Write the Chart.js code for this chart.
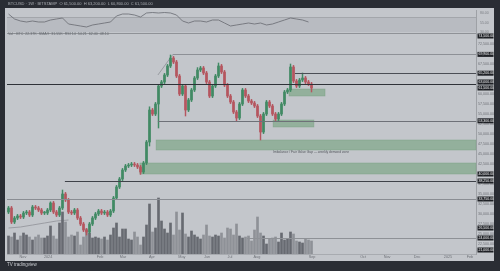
<!DOCTYPE html>
<html><head><meta charset="utf-8">
<script src="https://cdn.jsdelivr.net/npm/chart.js@4.4.1/dist/chart.umd.min.js"></script>
<style>
html,body{margin:0;padding:0;width:500px;height:271px;overflow:hidden;background:#2a2d34;font-family:'Liberation Sans',Arial,sans-serif;}
#frame{position:absolute;left:5px;top:8px;width:489px;height:253px;background:#c3c6cb;}
#c{position:absolute;left:0;top:0;}
.t{position:absolute;white-space:nowrap;line-height:1;}
</style></head><body>
<div id="frame"></div>
<canvas id="c" width="500" height="271"></canvas>
<div class="t" style="left:8px;top:2px;font-size:4px;color:#a9acb2">BTCUSD · 1W · BITSTAMP &nbsp;O 61,500.00 &nbsp;H 63,200.00 &nbsp;L 60,800.00 &nbsp;C 61,500.00</div>
<div class="t" style="left:8px;top:33px;font-size:3.6px;color:#666a70">Vol · BTC &nbsp;22.37K &nbsp;SMA 9 &nbsp;31.55K &nbsp;RSI 14 &nbsp;54.21 &nbsp;62.40 &nbsp;48.10</div>
<div class="t" style="left:7px;top:263px;font-size:4.5px;color:#c9ccd1">TV tradingview</div>
<script>
// ---- data (prices in thousands USD) ----
const firstOpen = 30.5;
const closes = [31.5,28.0,29.0,29.5,29.25,30.25,30.5,29.75,31.75,31.5,
31.0,30.25,30.25,31.0,32.75,30.5,29.75,31.5,35.0,33.5,
30.5,30.25,31.0,29.0,27.5,26.0,25.5,27.5,29.0,30.0,
30.75,30.25,30.5,29.75,30.75,34.0,36.75,38.75,41.0,42.0,
42.25,42.5,42.25,41.75,40.5,42.75,48.0,56.0,55.0,57.5,
62.0,63.0,64.75,67.0,69.0,68.0,64.5,60.0,62.0,56.0,
58.5,61.0,64.0,66.0,66.5,65.25,63.0,59.5,62.0,64.5,
67.0,65.5,62.25,59.5,58.0,55.5,54.0,57.5,61.0,59.5,
58.25,57.75,57.0,54.5,50.5,55.0,58.0,57.0,55.0,53.75,
55.0,57.5,60.5,61.0,66.75,63.25,62.0,63.5,64.0,63.0,
62.5,61.5];
const wickUp = [0.4,0.4,0.4,0.4,0.4,0.4,0.4,0.4,0.4,0.4,
0.4,0.4,0.4,0.4,0.3,0.4,0.4,0.4,1.0,0.4,
0.4,0.4,0.4,0.4,0.4,0.4,0.4,0.4,0.4,0.4,
0.4,0.4,0.4,0.4,0.4,0.4,0.4,0.4,0.4,0.4,
0.4,0.4,0.4,0.4,0.4,0.4,0.4,0.8,0.4,0.4,
0.4,0.4,0.4,0.4,0.75,0.4,0.4,0.4,0.4,0.4,
0.4,0.4,0.4,0.6,0.4,0.4,0.4,0.4,0.4,0.4,
0.75,0.4,0.4,0.4,0.4,0.4,0.4,0.4,0.4,0.4,
0.4,0.4,0.4,0.4,0.4,0.4,0.4,0.4,0.4,0.4,
0.4,0.4,0.4,0.4,0.75,0.4,0.4,0.4,1.25,0.4,
0.4,0.4];
const wickDn = [0.4,0.4,0.4,0.4,0.4,0.4,0.4,0.4,0.4,0.4,
0.4,0.4,0.4,0.4,0.4,0.4,0.4,0.4,0.4,0.4,
0.4,0.4,0.4,0.4,0.4,0.4,0.75,0.4,0.4,0.4,
0.4,0.4,0.4,0.4,0.4,0.4,0.4,0.4,0.4,0.4,
0.4,0.4,0.4,0.4,0.6,0.4,0.4,1.0,0.4,0.4,
6.0,0.4,0.4,0.4,0.4,0.4,0.4,0.4,0.4,1.5,
0.4,0.4,0.4,0.4,0.4,0.4,0.4,0.4,0.4,0.4,
0.4,0.4,0.4,0.4,0.4,0.4,0.75,0.4,0.4,0.4,
0.4,0.4,0.4,0.4,2.0,0.4,0.4,0.4,0.4,0.4,
0.4,0.4,0.4,0.4,0.4,0.4,0.4,0.4,0.4,0.4,
0.4,1.0];
const volumes = [18,17,21,14,18,21,19,17,14,17,
19,16,16,18,28,18,15,31,42,32,
17,19,18,22,9,17,25,21,16,17,
16,15,17,14,19,26,31,17,25,25,
15,14,22,17,9,17,29,50,22,26,
56,33,25,21,31,19,42,24,41,20,
17,23,19,17,15,19,29,18,17,19,
18,21,16,26,25,19,30,18,16,17,
18,13,24,37,21,18,10,15,16,17,
12,21,14,15,22,20,13,12,11,15,
14,13];
const oscValues = [78,64.7,59.3,56.7,59.3,56.7,56.7,62,64.7,67.3,
51.3,48.7,46,43.3,48.7,51.3,54,56.7,72.7,78,
78,75.3,70,80.7,82,80.7,82,80.7,75.3,59.3,
54,59.3,59.3,56.7,62,62,54,46,48.7,51.3,
54,51.3,54,48.7,51.3,56.7,62,67.3,64.7,62,
56.7];
const oscBand = [70, 30];
const oscTicks = [80, 55, 30];
const maX = [0.5, 4.5, 8.5, 12.5, 16.5, 20.5];
const maValues = [26.5, 26.75, 27.25, 27.75, 28.25, 28.5];
const trendX = [50.3, 55.3];
const trendY = [64.75, 69.9];
const zoneTop = [48.5, 42.75, 53.5, 61.25];
const zoneBottom = [46.0, 40.0, 51.75, 59.5];
const zoneStart = [49.7, 44.3, 88.7, 94.0];
const zoneEnd = [156.33, 156.33, 102.3, 106.0];
const hLinePrices = [62.4, 65.2, 69.9, 53.3, 38.25, 33.75, 24.0];
const hLineStarts = [0, 96, 55.3, 50.3, 19.3, 0, 80];
const badgePrices = [74.5, 69.9, 65.2, 63.0, 61.5, 53.3, 40.0, 38.25, 33.75, 26.5, 24.0, 21.0];
const priceTicks = [22.5,25,27.5,30,32.5,35,37.5,40,42.5,45,47.5,50,52.5,55,57.5,60,62.5,65,67.5,70,72.5];
const xTickPos = [5.3, 13.7, 31, 38.7, 48.3, 58.3, 66.7, 74.3, 83.3, 101.7, 118.7, 126.7, 136.7, 147, 154.3];
const xTickLabels = ['Nov','2024','Feb','Mar','Apr','May','Jun','Jul','Aug','Sep','Oct','Nov','Dec','2025','Feb'];
const zoneNote = 'Imbalance / Fair Value Gap — weekly demand zone';

// ---- build ----
const UP = '#418a64', DOWN = '#b5565f';
const bodies = [], wicks = [], vols = [], bodyCol = [], volCol = [];
closes.forEach((c, i) => {
  const o = i === 0 ? firstOpen : closes[i-1];
  const hi = Math.max(o, c) + wickUp[i], lo = Math.min(o, c) - wickDn[i];
  bodies.push({x: i + 0.5, y: [o, c]});
  wicks.push({x: i + 0.5, y: [lo, hi]});
  vols.push({x: i + 0.5, y: volumes[i]});
  bodyCol.push(c >= o ? UP : DOWN);
  volCol.push(c >= o ? '#676a71' : '#8e9197');
});
const oscData = oscValues.map((v, k) => ({x: 2*k + 0.5, y: v}));
const maData = maX.map((x, k) => ({x, y: maValues[k]}));
const trendData = trendX.map((x, k) => ({x, y: trendY[k]}));

function fmt(v){ return (v*1000).toLocaleString('en-US',{minimumFractionDigits:2, maximumFractionDigits:2}); }

const lineStyles = ['#2f3238','#4b4e55','#8d9096','#6e7178','#3f4249','#8a8d93','#8e9196'];

const overlay = {
  id: 'overlay',
  beforeDatasetsDraw(chart){
    const {ctx, chartArea:a, scales:{x, y, yOsc}} = chart;
    ctx.save();
    const b1 = yOsc.getPixelForValue(oscBand[0]), b2 = yOsc.getPixelForValue(oscBand[1]);
    ctx.fillStyle = 'rgba(60,64,72,0.08)';
    ctx.fillRect(a.left, b1, a.right - a.left, b2 - b1);
    ctx.strokeStyle = '#a3a6ab'; ctx.lineWidth = 1;
    ctx.beginPath(); ctx.moveTo(a.left, b1 + 0.5); ctx.lineTo(a.right, b1 + 0.5); ctx.stroke();
    ctx.strokeStyle = '#8f9297';
    ctx.beginPath(); ctx.moveTo(a.left, Math.round(b2) + 1.5); ctx.lineTo(a.right, Math.round(b2) + 1.5); ctx.stroke();
    for (let k = 0; k < zoneTop.length; k++){
      const x1 = x.getPixelForValue(zoneStart[k]), x2 = x.getPixelForValue(zoneEnd[k]);
      const y1 = y.getPixelForValue(zoneTop[k]), y2 = y.getPixelForValue(zoneBottom[k]);
      ctx.fillStyle = 'rgba(88,148,100,0.45)';
      ctx.fillRect(x1, y1, x2 - x1, y2 - y1);
      ctx.strokeStyle = 'rgba(120,160,128,0.7)'; ctx.lineWidth = 0.6;
      ctx.strokeRect(x1, y1, x2 - x1, y2 - y1);
    }
    ctx.restore();
  },
  afterDatasetsDraw(chart){
    const {ctx, chartArea:a, scales:{x, y}} = chart;
    ctx.save();
    for (let k = 0; k < hLinePrices.length; k++){
      const py = Math.round(y.getPixelForValue(hLinePrices[k])) + 0.5;
      ctx.strokeStyle = lineStyles[k]; ctx.lineWidth = 1;
      ctx.beginPath(); ctx.moveTo(x.getPixelForValue(hLineStarts[k]), py); ctx.lineTo(a.right, py); ctx.stroke();
    }
    ctx.fillStyle = '#55585e'; ctx.font = '3.3px "Liberation Sans"'; ctx.textBaseline = 'middle';
    ctx.fillText(zoneNote, x.getPixelForValue(88.7), y.getPixelForValue(45.4));
    ctx.restore();
  },
  afterDraw(chart){
    const {ctx, chartArea:a, scales:{y, yOsc}} = chart;
    ctx.save();
    ctx.font = '3.5px "Liberation Sans"'; ctx.textBaseline = 'middle';
    for (const p of badgePrices){
      const py = y.getPixelForValue(p);
      ctx.fillStyle = '#1e2025';
      ctx.fillRect(a.right + 1.5, py - 2.5, 16, 5);
      ctx.fillStyle = '#f2f3f5';
      ctx.fillText(fmt(p), a.right + 2.5, py);
    }
    ctx.fillStyle = '#7b7e84';
    for (const v of oscTicks){
      ctx.fillText(v.toFixed(2), a.right + 4, yOsc.getPixelForValue(v));
    }
    ctx.restore();
  }
};

Chart.defaults.font.family = '"Liberation Sans", Arial, sans-serif';
new Chart(document.getElementById('c'), {
  type: 'bar',
  data: { datasets: [
    {type:'bar', data: bodies, backgroundColor: bodyCol, barThickness: 2, minBarLength: 1, grouped: false, xAxisID:'x', yAxisID:'y', borderWidth:0},
    {type:'bar', data: wicks, backgroundColor: bodyCol, barThickness: 0.8, grouped: false, xAxisID:'x', yAxisID:'y', borderWidth:0},
    {type:'bar', data: vols, backgroundColor: volCol, barThickness: 2, grouped: false, xAxisID:'x', yAxisID:'yVol', borderWidth:0},
    {type:'line', data: oscData, borderColor:'#676a71', borderWidth:0.8, pointRadius:0, xAxisID:'x', yAxisID:'yOsc', tension:0},
    {type:'line', data: maData, borderColor:'#8f9298', borderWidth:0.8, pointRadius:0, xAxisID:'x', yAxisID:'y', tension:0},
    {type:'line', data: trendData, borderColor:'#8d9096', borderWidth:0.8, pointRadius:0, xAxisID:'x', yAxisID:'y', tension:0}
  ]},
  options: {
    responsive: false, animation: false, devicePixelRatio: 1,
    layout: { padding: { left: 7, top: 10, right: 0, bottom: 0 } },
    plugins: { legend: { display: false }, tooltip: { enabled: false } },
    scales: {
      x: { type:'linear', min: 0, max: 156.33, offset: false,
        afterBuildTicks: s => { s.ticks = xTickPos.map(v => ({value: v})); },
        afterFit: s => { s.height = 17; },
        ticks: { autoSkip:false, maxRotation:0, padding: 1, font:{size:3.8}, color:'#6f7278',
          callback: (v, i) => xTickLabels[i] },
        grid: { display:false, drawTicks:false, tickLength:0 }, border: { display:true, color:'#a8abb0' } },
      y: { type:'linear', position:'right', min: 20, max: 81,
        afterBuildTicks: s => { s.ticks = priceTicks.map(v => ({value: v})); },
        afterFit: s => { s.width = 24; },
        ticks: { padding: 2, font:{size:3.6}, color:'#6f7278', callback: v => fmt(v) },
        grid: { display:false, drawTicks:false, tickLength:0 }, border: { display:true, color:'#9ea1a6' } },
      yVol: { type:'linear', display:false, min:0, max:244 },
      yOsc: { type:'linear', display:false, min:-562, max:88.67 }
    }
  },
  plugins: [overlay]
});
</script>
</body></html>
